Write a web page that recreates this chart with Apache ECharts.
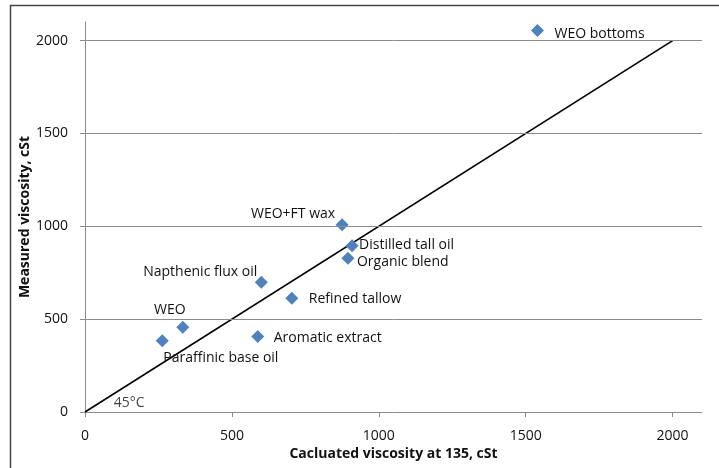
<!DOCTYPE html>
<html><head><meta charset="utf-8">
<script src="https://cdn.jsdelivr.net/npm/echarts@6/dist/echarts.min.js"></script>
<style>html,body{margin:0;padding:0;background:#fff}#c{width:719px;height:468px}</style>
</head><body><div id="c"></div>
<script>
const names = ['WEO bottoms','WEO+FT wax','Distilled tall oil','Organic blend','Napthenic flux oil','Refined tallow','WEO','Paraffinic base oil','Aromatic extract'];
const calcVisc = [1540, 875, 909, 895, 600, 704, 333, 263, 588];
const measVisc = [2054, 1008, 895, 828, 699, 613, 456, 383, 406];
const lineX = [0, 2000];
const lineY = [0, 2000];
const tickValues = [0, 500, 1000, 1500, 2000];
const gridValues = [500, 1000, 1500, 2000];
const annoX = [150];
const annoY = [50];
const annoText = ['45°C'];

// label placement (style), per point: [dx, dy, align] relative to marker centre
const place = [[17,3,'left'],[-7,-11,'right'],[7,-1,'left'],[9,4,'left'],[-4,-10,'right'],[17,1,'left'],[-13,-17,'center'],[1,17,'left'],[16,1,'left']];
const S = 13;
const FONT = 'Open Sans';
const TXT = '#111';
const chart = echarts.init(document.getElementById('c'));
chart.setOption({
  animation:false,
  textStyle:{fontFamily:FONT},
  graphic:[{type:'rect',shape:{x:10.5,y:5.5,width:800,height:600},style:{fill:'none',stroke:'#444',lineWidth:1.5},silent:true}],
  grid:{left:85,right:17,top:22,bottom:56,outerBoundsMode:'none',containLabel:false},
  xAxis:{type:'value',min:0,max:2100,interval:500,
    name:'Cacluated viscosity at 135, cSt',nameLocation:'middle',nameGap:35,nameMoveOverlap:false,
    nameTextStyle:{fontFamily:FONT,fontSize:14,fontWeight:'bold',color:TXT},
    axisLine:{show:true,lineStyle:{color:'#8c8c8c',width:1}},
    axisTick:{show:true,length:5,lineStyle:{color:'#8c8c8c'},customValues:tickValues},
    axisLabel:{fontFamily:FONT,fontSize:14,color:TXT,margin:17,customValues:tickValues,formatter:v=>String(v)},
    splitLine:{show:false}},
  yAxis:{type:'value',min:0,max:2100,interval:500,
    name:'Measured viscosity, cSt',nameLocation:'middle',nameGap:53,nameRotate:90,nameMoveOverlap:false,
    nameTextStyle:{fontFamily:FONT,fontSize:14,fontWeight:'bold',color:TXT},
    axisLine:{show:true,lineStyle:{color:'#8c8c8c',width:1}},
    axisTick:{show:true,length:5,lineStyle:{color:'#8c8c8c'},customValues:tickValues},
    axisLabel:{fontFamily:FONT,fontSize:14,color:TXT,margin:17,customValues:tickValues,formatter:v=>String(v)},
    splitLine:{show:false}},
  series:[
    {type:'line',data:lineX.map((x,i)=>[x,lineY[i]]),symbol:'none',lineStyle:{color:'#000',width:1.6},silent:true,
     markLine:{silent:true,symbol:'none',label:{show:false},lineStyle:{color:'#8c8c8c',width:1,type:'solid'},
       data:gridValues.map(v=>({yAxis:v}))},z:3},
    {type:'scatter',symbol:'diamond',symbolSize:S,itemStyle:{color:'#4F81BD',opacity:1},z:4,
     data:names.map((n,i)=>({value:[calcVisc[i],measVisc[i]],name:n,
       label:{show:true,formatter:n,position:[S/2+place[i][0],S/2+place[i][1]],align:place[i][2],verticalAlign:'middle',
         fontFamily:FONT,fontSize:14,color:TXT}}))},
    {type:'scatter',symbolSize:0,silent:true,
     data:annoX.map((x,i)=>({value:[x,annoY[i]],label:{show:true,formatter:annoText[i],position:'inside',fontFamily:FONT,fontSize:14,color:TXT}}))}
  ]
});
</script></body></html>
